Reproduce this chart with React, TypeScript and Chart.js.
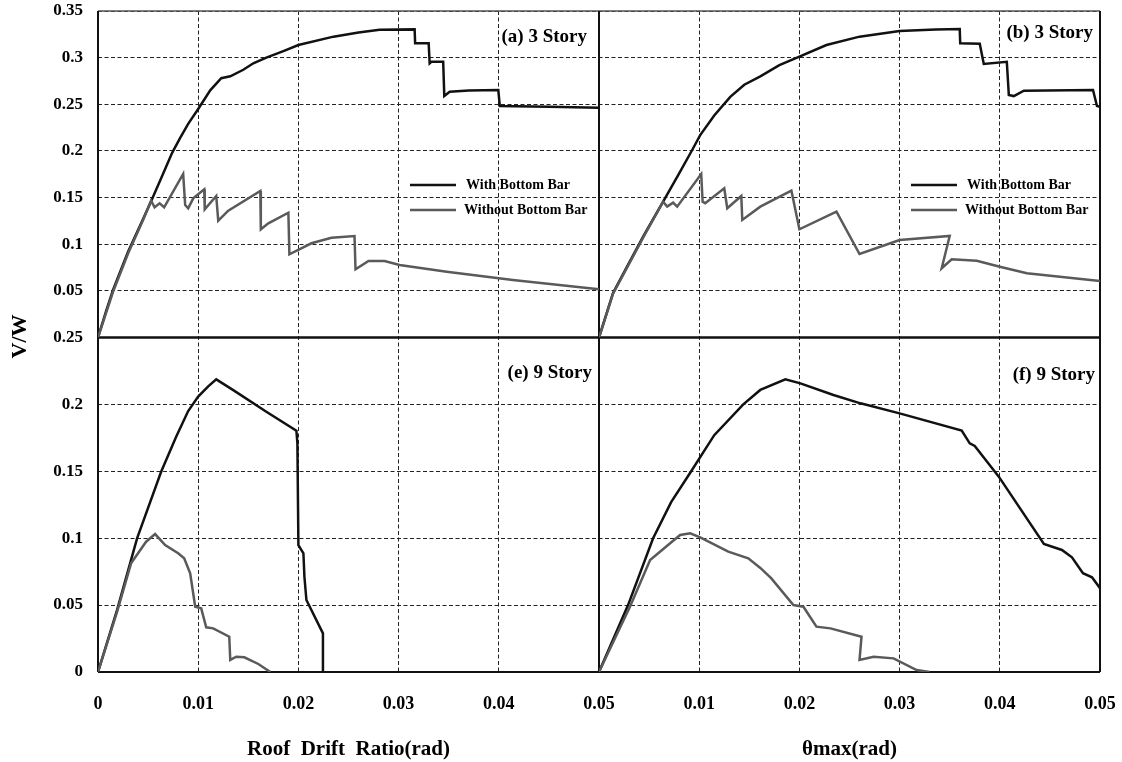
import React, { useEffect, useRef } from 'react';
import { Chart, registerables } from 'chart.js';

Chart.register(...registerables);

const FONT = '"Liberation Serif", "Times New Roman", serif';
const BLACK = '#111111';
const GRAY = '#5a5a5a';

// ---- tick values / labels ----
const xTickValues = [0, 0.01, 0.02, 0.03, 0.04, 0.05];
const xLeftTickLabels = ['0', '0.01', '0.02', '0.03', '0.04', '0.05'];
const xRightTickLabels = ['', '0.01', '0.02', '0.03', '0.04', '0.05'];
const yTopTickValues = [0, 0.05, 0.1, 0.15, 0.2, 0.25, 0.3, 0.35];
const yTopTickLabels = ['', '0.05', '0.1', '0.15', '0.2', '0.25', '0.3', '0.35'];
const yBottomTickValues = [0, 0.05, 0.1, 0.15, 0.2, 0.25];
const yBottomTickLabels = ['0', '0.05', '0.1', '0.15', '0.2', '0.25'];

// ---- text ----
const seriesNames = ['With Bottom Bar', 'Without Bottom Bar'];
const panelTitles = ['(a) 3 Story', '(b) 3 Story', '(e) 9 Story', '(f) 9 Story'];
const xTitleLeft = 'Roof  Drift  Ratio(rad)';
const xTitleRight = '\u03B8max(rad)';
const yTitle = 'V/W';

// ---- data: [drift, V/W] ----
// (a) 3 Story, roof drift ratio
const a3With: [number, number][] = [
  [0, 0], [0.0008, 0.028], [0.0015, 0.051], [0.003, 0.092], [0.0045, 0.127], [0.0053, 0.146],
  [0.0064, 0.173], [0.0074, 0.198], [0.0082, 0.214], [0.009, 0.229], [0.01, 0.245], [0.0112, 0.265],
  [0.0123, 0.278], [0.0132, 0.28], [0.0145, 0.287], [0.0155, 0.294], [0.0168, 0.3], [0.0185, 0.307],
  [0.02, 0.3135], [0.0235, 0.3225], [0.026, 0.327], [0.0281, 0.33], [0.0316, 0.3303], [0.03165, 0.3154],
  [0.033, 0.3154], [0.0331, 0.2939], [0.0333, 0.2957], [0.03445, 0.2957], [0.03456, 0.2589],
  [0.0351, 0.2635], [0.037, 0.2648], [0.03995, 0.2653], [0.0401, 0.2481], [0.045, 0.2473], [0.05, 0.2463],
];
const a3Without: [number, number][] = [
  [0, 0], [0.0015, 0.049], [0.003, 0.09], [0.0045, 0.126], [0.0053, 0.1467], [0.00565, 0.1396],
  [0.00615, 0.1438], [0.0066, 0.1396], [0.0085, 0.1753], [0.0087, 0.142], [0.009, 0.1385],
  [0.0095, 0.1492], [0.0106, 0.1589], [0.01065, 0.1374], [0.0118, 0.1517], [0.012, 0.1252],
  [0.013, 0.136], [0.0162, 0.157], [0.01625, 0.116], [0.017, 0.1224], [0.019, 0.1338],
  [0.0191, 0.0892], [0.0213, 0.101], [0.0233, 0.107], [0.0256, 0.1088], [0.0257, 0.0731],
  [0.027, 0.082], [0.0286, 0.082], [0.0301, 0.0777], [0.0348, 0.0706], [0.0414, 0.0616], [0.05, 0.0517],
];
// (b) 3 Story, theta max
const b3With: [number, number][] = [
  [0, 0], [0.0014, 0.0476], [0.003, 0.08], [0.0045, 0.11], [0.0064, 0.1456], [0.008, 0.176],
  [0.0093, 0.201], [0.0101, 0.217], [0.0115, 0.238], [0.0131, 0.258], [0.0145, 0.271], [0.0161, 0.28],
  [0.018, 0.292], [0.02, 0.301], [0.0227, 0.3135], [0.026, 0.3225], [0.03, 0.3285], [0.0336, 0.3302],
  [0.036, 0.3307], [0.03605, 0.3153], [0.038, 0.315], [0.0384, 0.2932], [0.0407, 0.2956],
  [0.0409, 0.26], [0.0414, 0.2588], [0.0424, 0.2646], [0.0493, 0.2653], [0.0497, 0.2481], [0.05, 0.2474],
];
const b3Without: [number, number][] = [
  [0, 0], [0.0014, 0.047], [0.003, 0.079], [0.0045, 0.109], [0.0064, 0.1456], [0.0068, 0.1403],
  [0.0074, 0.1446], [0.0078, 0.1403], [0.0102, 0.1753], [0.01034, 0.1456], [0.0106, 0.144],
  [0.0125, 0.16], [0.0128, 0.1385], [0.0142, 0.1517], [0.0143, 0.126], [0.0161, 0.1403],
  [0.0192, 0.1575], [0.02, 0.116], [0.0237, 0.1349], [0.026, 0.0895], [0.03, 0.1045], [0.035, 0.1088],
  [0.0342, 0.0742], [0.0352, 0.0838], [0.0377, 0.0823], [0.04, 0.0759], [0.0427, 0.0688], [0.05, 0.0606],
];
// (e) 9 Story, roof drift ratio
const e9With: [number, number][] = [
  [0, 0], [0.0019, 0.0463], [0.0039, 0.0999], [0.0063, 0.1497], [0.0078, 0.1759], [0.009, 0.195],
  [0.01, 0.2058], [0.011, 0.2135], [0.0118, 0.2187], [0.0135, 0.2107], [0.0168, 0.1945],
  [0.0198, 0.1804], [0.0199, 0.1709], [0.02, 0.0949], [0.0205, 0.0887], [0.0206, 0.0712],
  [0.0208, 0.0538], [0.02245, 0.0289], [0.02245, 0],
];
const e9Without: [number, number][] = [
  [0, 0], [0.0019, 0.045], [0.0033, 0.0812], [0.0048, 0.0974], [0.0057, 0.1031], [0.0067, 0.0949],
  [0.008, 0.0887], [0.0086, 0.085], [0.0092, 0.0738], [0.0097, 0.0488], [0.0103, 0.0476],
  [0.0108, 0.0334], [0.0115, 0.0326], [0.0131, 0.0264], [0.0132, 0.009], [0.0138, 0.0114],
  [0.0146, 0.011], [0.016, 0.006], [0.0172, 0],
];
// (f) 9 Story, theta max
const f9With: [number, number][] = [
  [0, 0], [0.0029, 0.05], [0.0054, 0.1], [0.0072, 0.127], [0.0092, 0.15], [0.0115, 0.177],
  [0.0144, 0.2], [0.0161, 0.2108], [0.0186, 0.2187], [0.0201, 0.2157], [0.0234, 0.207],
  [0.0261, 0.2008], [0.03, 0.1933], [0.0362, 0.1804], [0.037, 0.1709], [0.0375, 0.1689],
  [0.0399, 0.146], [0.0444, 0.0957], [0.0462, 0.0912], [0.0472, 0.0857], [0.0483, 0.0738],
  [0.0492, 0.0708], [0.05, 0.0626],
];
const f9Without: [number, number][] = [
  [0, 0], [0.0031, 0.049], [0.0051, 0.0837], [0.0071, 0.0962], [0.0081, 0.1024], [0.0091, 0.1036],
  [0.0101, 0.1006], [0.0129, 0.0899], [0.0149, 0.085], [0.0161, 0.0778], [0.0172, 0.07],
  [0.0194, 0.05], [0.0204, 0.0488], [0.0217, 0.0339], [0.0231, 0.0326], [0.0262, 0.0264],
  [0.026, 0.009], [0.0274, 0.0114], [0.0294, 0.0102], [0.0317, 0.0015], [0.033, 0],
];

const toPoints = (arr: [number, number][]) => arr.map(([x, y]) => ({ x, y }));

const overlay = {
  id: 'panelOverlay',
  beforeDatasetsDraw(chart: any) {
    const { ctx } = chart;
    const xL = chart.scales.xL;
    const xR = chart.scales.xR;
    const yT = chart.scales.yT;
    const yB = chart.scales.yB;
    const left = xL.left;
    const mid = xL.right;
    const right = xR.right;
    const top = yT.top;
    const sep = yT.bottom;
    const bottom = yB.bottom;
    const line = (x1: number, y1: number, x2: number, y2: number, w: number, c: string) => {
      ctx.save();
      ctx.lineWidth = w;
      ctx.strokeStyle = c;
      ctx.beginPath();
      ctx.moveTo(x1, y1);
      ctx.lineTo(x2, y2);
      ctx.stroke();
      ctx.restore();
    };
    line(left, top, right, top, 1.3, '#555');
    line(left, top, left, bottom, 2, '#111');
    line(right, top, right, bottom, 2, '#111');
    line(left, bottom, right, bottom, 2, '#111');
    line(mid, top, mid, bottom, 2, '#111');
    line(left, sep, right, sep, 2.6, '#111');
  },
  afterDatasetsDraw(chart: any) {
    const { ctx } = chart;
    const xL = chart.scales.xL;
    const xR = chart.scales.xR;
    const yT = chart.scales.yT;
    const yB = chart.scales.yB;
    ctx.save();
    ctx.fillStyle = '#000';
    ctx.textBaseline = 'middle';
    ctx.textAlign = 'right';
    ctx.font = `bold 19px ${FONT}`;
    ctx.fillText(panelTitles[0], xL.right - 12, yT.top + 26);
    ctx.fillText(panelTitles[1], xR.right - 7, yT.top + 22);
    ctx.fillText(panelTitles[2], xL.right - 7, yB.top + 36);
    ctx.fillText(panelTitles[3], xR.right - 5, yB.top + 38);

    // legends
    const drawLegend = (px: number) => {
      const rows = [
        { color: BLACK, dy: 174, tx: 368 },
        { color: GRAY, dy: 199, tx: 366 },
      ];
      rows.forEach((r, i) => {
        const y = yT.top + r.dy;
        ctx.save();
        ctx.strokeStyle = r.color;
        ctx.lineWidth = 2.5;
        ctx.beginPath();
        ctx.moveTo(px + 312, y);
        ctx.lineTo(px + 358, y);
        ctx.stroke();
        ctx.restore();
        ctx.textAlign = 'left';
        ctx.font = `bold 14px ${FONT}`;
        ctx.fillText(seriesNames[i], px + r.tx, y);
      });
    };
    drawLegend(xL.left);
    drawLegend(xR.left);

    // y title
    ctx.save();
    ctx.translate(20.5, yT.bottom - 1);
    ctx.rotate(-Math.PI / 2);
    ctx.textAlign = 'center';
    ctx.font = `bold 22px ${FONT}`;
    ctx.fillText(yTitle, 0, 0);
    ctx.restore();
    ctx.restore();
  },
};

export default function App() {
  const ref = useRef<HTMLCanvasElement>(null);
  useEffect(() => {
    const canvas = ref.current;
    if (!canvas) return;
    const ds = (label: string, data: [number, number][], xAxisID: string, yAxisID: string, color: string) => ({
      label,
      data: toPoints(data),
      xAxisID,
      yAxisID,
      borderColor: color,
      backgroundColor: color,
      borderWidth: 2.5,
      pointRadius: 0,
      tension: 0,
      fill: false,
    });
    const grid = { color: '#222', lineWidth: 1, drawTicks: false };
    const border = { display: false, dash: [4, 2.5] };
    const tickFontY = { family: FONT, size: 17, weight: 'bold' as const };
    const tickFontX = { family: FONT, size: 18, weight: 'bold' as const };
    const titleFont = { family: FONT, size: 21, weight: 'bold' as const };
    const fitX = (s: any) => {
      s.height = 90;
      s.paddingLeft = 0;
      s.paddingRight = 0;
    };
    const fitY = (s: any) => {
      s.width = 98;
      s.paddingTop = 0;
      s.paddingBottom = 0;
    };

    const chart = new Chart(canvas, {
      type: 'line',
      data: {
        datasets: [
          ds(seriesNames[1], a3Without, 'xL', 'yT', GRAY),
          ds(seriesNames[1], b3Without, 'xR', 'yT', GRAY),
          ds(seriesNames[1], e9Without, 'xL', 'yB', GRAY),
          ds(seriesNames[1], f9Without, 'xR', 'yB', GRAY),
          ds(seriesNames[0], a3With, 'xL', 'yT', BLACK),
          ds(seriesNames[0], b3With, 'xR', 'yT', BLACK),
          ds(seriesNames[0], e9With, 'xL', 'yB', BLACK),
          ds(seriesNames[0], f9With, 'xR', 'yB', BLACK),
        ] as any,
      },
      options: {
        responsive: false,
        animation: false,
        devicePixelRatio: 1,
        layout: { padding: { left: 0, right: 22, top: 11, bottom: 0 } },
        plugins: { legend: { display: false }, tooltip: { enabled: false } },
        events: [],
        scales: {
          xL: {
            type: 'linear',
            position: 'bottom',
            stack: 'h',
            stackWeight: 1,
            min: 0,
            max: 0.05,
            afterBuildTicks: (s: any) => {
              s.ticks = xTickValues.map((v) => ({ value: v }));
            },
            ticks: {
              autoSkip: false,
              maxRotation: 0,
              padding: 22,
              color: '#000',
              font: tickFontX,
              callback: (_v: any, i: number) => xLeftTickLabels[i],
            },
            grid,
            border,
            title: { display: true, text: xTitleLeft, color: '#000', font: titleFont, padding: { top: 0, bottom: 0 } },
            afterFit: fitX,
          },
          xR: {
            type: 'linear',
            position: 'bottom',
            stack: 'h',
            stackWeight: 1,
            min: 0,
            max: 0.05,
            afterBuildTicks: (s: any) => {
              s.ticks = xTickValues.map((v) => ({ value: v }));
            },
            ticks: {
              autoSkip: false,
              maxRotation: 0,
              padding: 22,
              color: '#000',
              font: tickFontX,
              callback: (_v: any, i: number) => xRightTickLabels[i],
            },
            grid,
            border,
            title: { display: true, text: xTitleRight, color: '#000', font: titleFont, padding: { top: 0, bottom: 0 } },
            afterFit: fitX,
          },
          yB: {
            type: 'linear',
            position: 'left',
            stack: 'v',
            stackWeight: 334.5,
            min: 0,
            max: 0.25,
            afterBuildTicks: (s: any) => {
              s.ticks = yBottomTickValues.map((v) => ({ value: v }));
            },
            ticks: {
              autoSkip: false,
              padding: 15,
              color: '#000',
              font: tickFontY,
              callback: (_v: any, i: number) => yBottomTickLabels[i],
            },
            grid,
            border,
            afterFit: fitY,
          },
          yT: {
            type: 'linear',
            position: 'left',
            stack: 'v',
            stackWeight: 326.5,
            min: 0,
            max: 0.35,
            afterBuildTicks: (s: any) => {
              s.ticks = yTopTickValues.map((v) => ({ value: v }));
            },
            ticks: {
              autoSkip: false,
              padding: 15,
              color: '#000',
              font: tickFontY,
              callback: (_v: any, i: number) => yTopTickLabels[i],
            },
            grid,
            border,
            afterFit: fitY,
          },
        } as any,
      },
      plugins: [overlay],
    });
    return () => chart.destroy();
  }, []);

  return (
    <div style={{ position: 'absolute', left: 0, top: 0, width: 1122, height: 762, background: '#fff' }}>
      <canvas ref={ref} width={1122} height={762} style={{ display: 'block' }} />
    </div>
  );
}
